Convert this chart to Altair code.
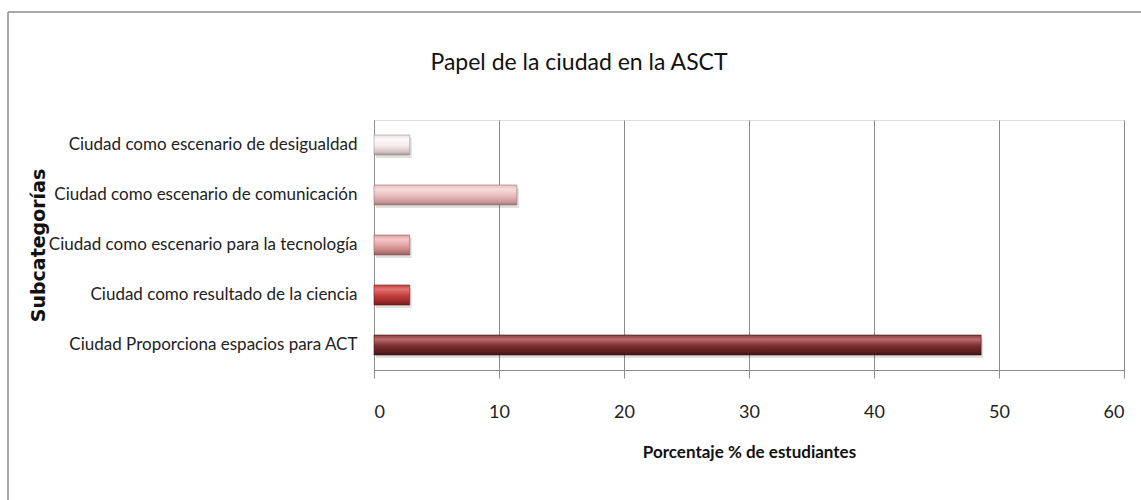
import altair as alt
import pandas as pd

categories = [
    "Ciudad como escenario de desigualdad",
    "Ciudad como escenario de comunicación",
    "Ciudad como escenario para la tecnología",
    "Ciudad como resultado de la ciencia",
    "Ciudad Proporciona espacios para ACT",
]
values = [2.86, 11.43, 2.86, 2.86, 48.57]
x_ticks = [0, 10, 20, 30, 40, 50, 60]

# gradient stops per bar (top -> bottom)
bar_stops = [
    ["#ece0e0", "#fefafa", "#f4eaea", "#d2c3c3", "#a39494"],
    ["#e6bebe", "#f7dcdc", "#e8bbbb", "#c89999", "#9a7474"],
    ["#df9f9f", "#f5c6c6", "#e2a1a1", "#b77878", "#8c5a5a"],
    ["#c84646", "#e27272", "#c33b3b", "#952727", "#6c1919"],
    ["#8a3b3b", "#b96a6a", "#7a2d2d", "#5a1e1e", "#3f1313"],
]
stop_offsets = [0, 0.22, 0.55, 0.85, 1]

df = pd.DataFrame({"cat": categories, "val": values})

FONT = "Lato"
GRID = "#8c8c8c"

x_enc = alt.X(
    "val:Q",
    scale=alt.Scale(domain=[0, 60], nice=False, zero=True),
    axis=alt.Axis(
        values=x_ticks,
        grid=True,
        gridColor=GRID,
        gridWidth=1,
        domainColor=GRID,
        tickColor=GRID,
        tickSize=8,
        labelFont=FONT,
        labelFontSize=18,
        labelColor="#222222",
        labelPadding=25,
        title="Porcentaje % de estudiantes",
        titleFont=FONT,
        titleFontSize=17,
        titleFontWeight="bold",
        titleColor="#111111",
        titleY=82,
        titleBaseline="middle",
    ),
)
y_enc = alt.Y(
    "cat:N",
    sort=categories,
    scale=alt.Scale(paddingInner=0.6, paddingOuter=0.3),
    axis=alt.Axis(
        ticks=False,
        domainColor=GRID,
        labelFont=FONT,
        labelFontSize=17,
        labelColor="#222222",
        labelPadding=17,
        labelLimit=500,
        title="Subcategorías",
        titleFont="DejaVu Sans",
        titleFontSize=19,
        titleFontWeight="bold",
        titleColor="#111111",
        titleAngle=270,
        titleX=-336,
        titleY=125,
        titleAlign="center",
        titleBaseline="middle",
    ),
)

border_df = pd.DataFrame({"k": [0]})
border_top = alt.Chart(border_df).mark_rule(color="#8a8a8a", strokeWidth=1.5).encode(
    x=alt.value(-366), x2=alt.value(770), y=alt.value(-108)
)
border_left = alt.Chart(border_df).mark_rule(color="#8a8a8a", strokeWidth=1.5).encode(
    x=alt.value(-366), y=alt.value(-108), y2=alt.value(390)
)

layers = [border_top, border_left]

shadow = alt.Chart(df).mark_bar(color="#000000", opacity=0.12, xOffset=2, yOffset=3).encode(
    x=x_enc, y=y_enc
)
layers.append(shadow)

for cat, stops in zip(categories, bar_stops):
    grad = alt.Gradient(
        gradient="linear",
        x1=0, x2=0, y1=0, y2=1,
        stops=[alt.GradientStop(color=c, offset=o) for c, o in zip(stops, stop_offsets)],
    )
    layers.append(
        alt.Chart(df)
        .transform_filter(alt.datum.cat == cat)
        .mark_bar(color=grad, stroke=stops[-1], strokeWidth=0.6)
        .encode(x=x_enc, y=y_enc)
    )

chart = (
    alt.layer(*layers)
    .properties(
        width=750,
        height=250,
        autosize=alt.AutoSizeParams(type="none"),
        padding={"left": 374, "top": 120, "right": 17, "bottom": 130},
        title=alt.TitleParams(
            text="Papel de la ciudad en la ASCT",
            font=FONT,
            fontSize=23,
            fontWeight="normal",
            color="#111111",
            anchor="middle",
            frame="group",
            dx=-170,
            dy=82,
            baseline="alphabetic",
            offset=0,
        ),
    )
    .configure_view(strokeWidth=0)
    .configure(background="white")
)

chart.save("out.html", embed_options={"renderer": "svg", "actions": False})
